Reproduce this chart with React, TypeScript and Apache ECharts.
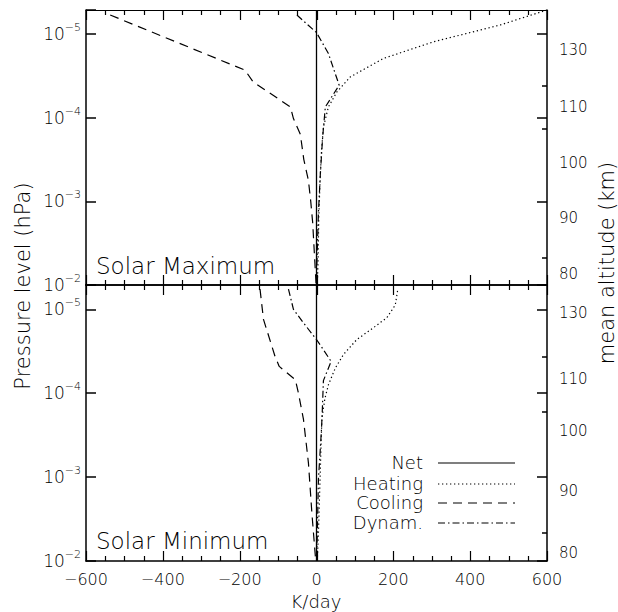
import React, { useEffect, useRef } from "react";
import * as echarts from "echarts";

// ---------- axes ----------
const X_MIN = -600;
const X_MAX = 600;
const X_STEP = 200;
const X_MINOR_STEP = 50;
const P_TOP = 5.13e-6; // hPa at top of each panel
const P_BOTTOM = 1e-2; // hPa at bottom of each panel
const pressureDecades = [1e-5, 1e-4, 1e-3, 1e-2];

// ---------- Solar Maximum ----------
const maxNetP = [5.13e-6, 1e-2];
const maxNet = [0, 0];
const maxHeatP = [5.13e-6, 7.76e-6, 1.23e-5, 1.95e-5, 3.24e-5, 4.9e-5, 7.41e-5, 1.29e-4, 2.45e-4, 6.17e-4, 1.51e-3, 5.5e-3, 1e-2];
const maxHeat = [600, 478, 305, 174, 88, 53, 31, 18, 13, 9, 6, 4, 2];
const maxCoolP = [5.89e-6, 2.69e-5, 3.72e-5, 7.41e-5, 1.02e-4, 1.58e-4, 3.16e-4, 5.62e-4, 1e-3, 1.78e-3, 3.16e-3, 5.62e-3, 1e-2];
const maxCool = [-537, -186, -165, -68, -60, -42, -33, -21, -15, -10, -7, -4, -1];
const maxDynP = [5.89e-6, 9.55e-6, 1.7e-5, 4.07e-5, 7.41e-5, 1.7e-4, 4.68e-4, 1.38e-3, 5.5e-3, 1e-2];
const maxDyn = [-51, 0, 31, 59, 23, 16, 10, 5, 1, 0];

// ---------- Solar Minimum ----------
const minNetP = [5.13e-6, 1e-2];
const minNet = [0, 0];
const minHeatP = [6.03e-6, 8.91e-6, 1.26e-5, 1.66e-5, 2.29e-5, 3.47e-5, 5.01e-5, 7.94e-5, 1.15e-4, 2.0e-4, 3.98e-4, 1.17e-3, 4.68e-3, 1e-2];
const minHeat = [211, 205, 183, 148, 105, 70, 49, 31, 22, 14, 12, 9, 5, 2];
const minCoolP = [5.75e-6, 1.32e-5, 3.63e-5, 4.79e-5, 6.92e-5, 1e-4, 2.04e-4, 6.76e-4, 2.69e-3, 1e-2];
const minCool = [-147, -138, -108, -97, -55, -47, -34, -21, -12, -2];
const minDynP = [5.75e-6, 1e-5, 1.45e-5, 2.29e-5, 4.17e-5, 7.08e-5, 1.66e-4, 2.69e-4, 1.07e-3, 5.01e-3, 1e-2];
const minDyn = [-73, -60, -34, 0, 38, 18, 15, 13, 5, 2, 0];

// ---------- right-hand altitude axis (km) ----------
const altLabels = [130, 110, 100, 90, 80];
const altPMax = [1.55e-5, 7.41e-5, 3.47e-4, 1.58e-3, 7.41e-3];
const altPMin = [1.1e-5, 6.76e-5, 2.82e-4, 1.45e-3, 7.94e-3];
const altMinorPMax = [4.17e-5, 1.35e-4, 4.68e-3];
const altMinorPMin = [3.72e-5, 1.66e-4, 4.57e-3];

const legendNames = ["Net", "Heating", "Cooling", "Dynam."];
const panelTitles = ["Solar Maximum", "Solar Minimum"];

const FONT = "DejaVu Sans";
const FW = 200;
const BLACK = "#000";
const TICK_W = 1.5;
const DASH_HEAT = [1.3, 2.7];
const DASH_COOL = [9, 6];
const DASH_DYN = [7, 3, 1.5, 3];
const lineTypes = ["solid", DASH_HEAT, DASH_COOL, DASH_DYN] as any[];

const GRID_L = 86;
const GRID_W = 461;
const GRIDS = [
  { top: 10, height: 275 },
  { top: 285, height: 276 },
];

function zip(vals: number[], ps: number[]) {
  return vals.map((v, i) => [v, ps[i]]);
}
const log10 = (a: number[]) => a.map((p) => Math.log10(p));

function buildOption() {
  const minus = (s: string) => s.replace("-", "\u2212");
  const xAxes: any[] = [];
  GRIDS.forEach((_, gi) => {
    ["bottom", "top"].forEach((pos) => {
      const lw = pos === "top" && gi === 0 ? 1 : 1.5;
      const withLabels = gi === 1 && pos === "bottom";
      xAxes.push({
        type: "value",
        gridIndex: gi,
        position: pos,
        min: X_MIN,
        max: X_MAX,
        interval: X_STEP,
        axisLine: { show: true, onZero: false, lineStyle: { color: BLACK, width: lw } },
        axisTick: { show: false },
        minorTick: { show: false },
        splitLine: { show: false },
        axisLabel: {
          show: withLabels,
          margin: 10,
          fontFamily: FONT,
          fontWeight: FW,
          fontSize: 16,
          color: BLACK,
          formatter: (v: number) => minus(String(v)),
        },
      });
    });
  });

  const yAxes: any[] = [];
  GRIDS.forEach((_, gi) => {
    const altP = gi === 0 ? altPMax : altPMin;
    const altMinor = gi === 0 ? altMinorPMax : altMinorPMin;
    const altPos = log10(altP);
    yAxes.push({
      type: "log",
      logBase: 10,
      gridIndex: gi,
      position: "left",
      min: P_TOP,
      max: P_BOTTOM,
      inverse: true,
      axisLine: { show: true, onZero: false, lineStyle: { color: BLACK, width: 1.5 } },
      axisTick: { show: true, inside: true, length: 10, lineStyle: { color: BLACK, width: TICK_W } },
      splitLine: { show: false },
      axisLabel: {
        margin: 5,
        color: BLACK,
        fontFamily: FONT,
        formatter: (v: number) => {
          const e = Math.log10(v);
          const r = Math.round(e);
          if (Math.abs(e - r) > 0.01) return "";
          if (!pressureDecades.some((d) => Math.abs(Math.log10(d) - r) < 0.01)) return "";
          return "{b|10}{s|" + minus(String(r)) + "}";
        },
        rich: {
          b: { fontSize: 17, fontFamily: FONT, fontWeight: FW, color: BLACK, lineHeight: 24 },
          s: { fontSize: 11, fontFamily: FONT, fontWeight: FW, color: BLACK, verticalAlign: "top" },
        },
      },
    });
    yAxes.push({
      type: "value",
      gridIndex: gi,
      position: "right",
      min: Math.log10(P_TOP),
      max: Math.log10(P_BOTTOM),
      inverse: true,
      axisLine: { show: true, onZero: false, lineStyle: { color: BLACK, width: 1.5 } },
      axisTick: {
        show: true,
        inside: true,
        length: 10,
        customValues: log10(pressureDecades),
        lineStyle: { color: BLACK, width: TICK_W },
      },
      splitLine: { show: false },
      axisLabel: {
        show: true,
        customValues: altPos,
        margin: 12,
        color: BLACK,
        fontFamily: FONT,
        fontWeight: FW,
        fontSize: 15,
        formatter: (v: number) => {
          const i = altPos.findIndex((p) => Math.abs(p - v) < 1e-6);
          return i >= 0 ? String(altLabels[i]) : "";
        },
      },
    });
    yAxes.push({
      type: "value",
      gridIndex: gi,
      position: "right",
      min: Math.log10(P_TOP),
      max: Math.log10(P_BOTTOM),
      inverse: true,
      axisLine: { show: false, onZero: false },
      axisTick: {
        show: true,
        inside: true,
        length: 5,
        customValues: log10(altMinor),
        lineStyle: { color: BLACK, width: TICK_W },
      },
      splitLine: { show: false },
      axisLabel: { show: false },
    });
  });

  const panels = [
    { vals: [maxNet, maxHeat, maxCool, maxDyn], ps: [maxNetP, maxHeatP, maxCoolP, maxDynP] },
    { vals: [minNet, minHeat, minCool, minDyn], ps: [minNetP, minHeatP, minCoolP, minDynP] },
  ];
  const series: any[] = [];
  panels.forEach((pn, gi) => {
    pn.vals.forEach((vals, k) => {
      series.push({
        type: "line",
        name: legendNames[k] + (gi === 0 ? " (max)" : " (min)"),
        xAxisIndex: gi * 2,
        yAxisIndex: gi * 3,
        data: zip(vals, pn.ps[k]),
        symbol: "none",
        silent: true,
        lineStyle: { color: BLACK, width: k === 0 ? 1.3 : 1.2, type: lineTypes[k] },
      });
    });
  });

  const text = (t: string, x: number, y: number, size: number, align = "left", rot = 0) => ({
    type: "text",
    x,
    y,
    rotation: rot,
    style: {
      text: t,
      fontFamily: FONT,
      fontWeight: FW,
      fontSize: size,
      fill: BLACK,
      textAlign: align,
      textVerticalAlign: "middle",
    },
    z: 10,
  });

  const legendYs = [463, 484, 503, 523];
  const graphic: any[] = [
    text("Pressure level (hPa)", 23, 286, 21, "center", Math.PI / 2),
    text("mean altitude (km)", 607, 263, 21, "center", Math.PI / 2),
    text("K/day", 316, 601, 18, "center"),
    text(panelTitles[0], 96, 266, 23, "left"),
    text(panelTitles[1], 96, 541, 23, "left"),
  ];
  legendNames.forEach((n, k) => {
    graphic.push(text(n, 423, legendYs[k] - 1, 18, "right"));
    graphic.push({
      type: "line",
      shape: { x1: 438, y1: legendYs[k], x2: 515, y2: legendYs[k] },
      style: {
        stroke: BLACK,
        lineWidth: 1.2,
        lineDash: k === 0 ? null : lineTypes[k],
      },
      z: 10,
    });
  });

  return {
    animation: false,
    backgroundColor: "#fff",
    grid: GRIDS.map((g) => ({
      left: GRID_L,
      width: GRID_W,
      top: g.top,
      height: g.height,
      containLabel: false,
    })),
    xAxis: xAxes,
    yAxis: yAxes,
    series,
    graphic,
  };
}

// K/day tick marks on the four horizontal panel edges, placed through the x scale
function buildXTicks(chart: any) {
  const out: any[] = [];
  const edges = [
    { y: GRIDS[0].top, dir: 1 },
    { y: GRIDS[0].top + GRIDS[0].height, dir: -1 },
    { y: GRIDS[1].top, dir: 1 },
    { y: GRIDS[1].top + GRIDS[1].height, dir: -1 },
  ];
  for (let v = X_MIN; v <= X_MAX; v += X_MINOR_STEP) {
    const px = chart.convertToPixel({ xAxisIndex: 0 }, v);
    if (typeof px !== "number" || !isFinite(px)) continue;
    const len = Math.abs(v % X_STEP) < 1e-9 ? 10 : 5;
    const x = Math.round(px) + 0.5;
    edges.forEach((e) => {
      out.push({
        type: "line",
        silent: true,
        z: 9,
        shape: { x1: x, y1: e.y, x2: x, y2: e.y + e.dir * len },
        style: { stroke: BLACK, lineWidth: 1.2 },
      });
    });
  }
  return out;
}

export default function App() {
  const ref = useRef<HTMLDivElement>(null);
  useEffect(() => {
    if (!ref.current) return;
    const chart = echarts.init(ref.current, null, { renderer: "svg" });
    const option: any = buildOption();
    chart.setOption(option);
    try {
      const ticks = buildXTicks(chart);
      if (ticks.length) chart.setOption({ graphic: [...option.graphic, ...ticks] } as any);
    } catch (err) {
      // keep the chart as drawn
    }
    return () => chart.dispose();
  }, []);
  return (
    <div
      ref={ref}
      style={{ position: "fixed", left: 0, top: 0, width: 618, height: 612, background: "#fff" }}
    />
  );
}
